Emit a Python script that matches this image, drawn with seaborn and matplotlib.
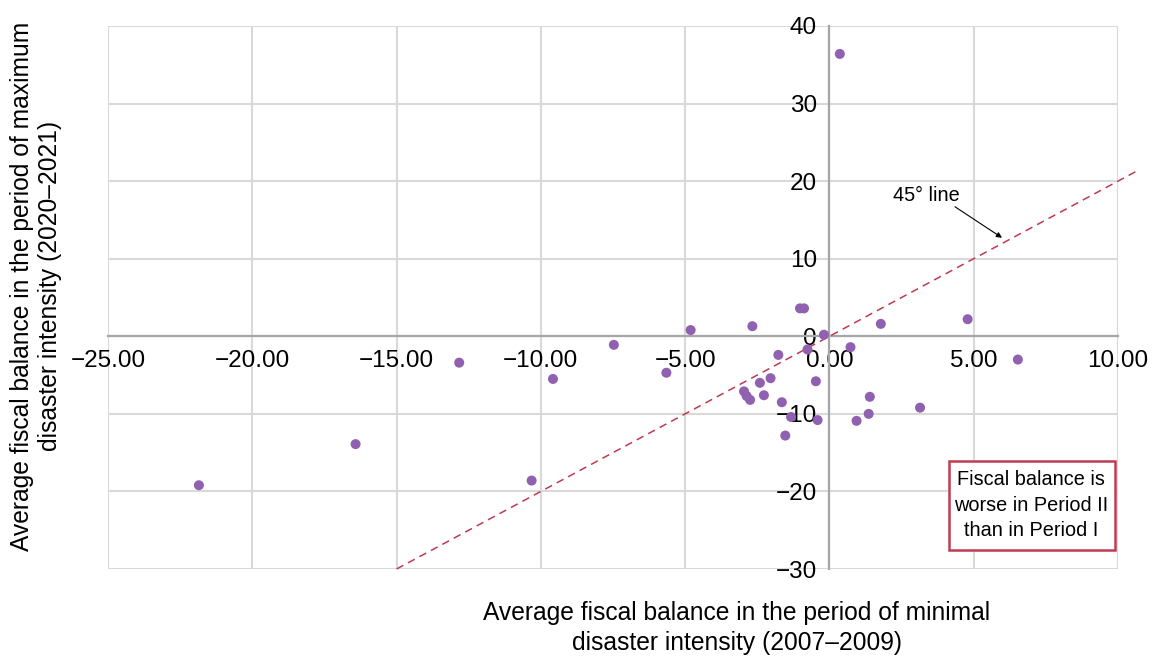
import matplotlib
matplotlib.use("Agg")
import matplotlib.pyplot as plt
from matplotlib.patches import Rectangle
from matplotlib.ticker import FuncFormatter
import seaborn as sns
import pandas as pd

# Average fiscal balance, % of GDP
period1 = [0.36, -21.85, -16.42, -12.83, -10.32, -9.58, -7.47, -5.65, -4.81, -2.67,
           -2.96, -2.87, -2.75, -2.41, -2.27, -2.04, -1.77, -1.65, -1.53, -1.33,
           -1.02, -0.88, -0.76, -0.47, -0.41, -0.19, 0.73, 0.94, 1.36, 1.40,
           1.78, 3.14, 4.79, 6.53]
period2 = [36.4, -19.2, -13.9, -3.4, -18.6, -5.5, -1.1, -4.7, 0.8, 1.3,
           -7.1, -7.7, -8.2, -6.0, -7.6, -5.4, -2.4, -8.5, -12.8, -10.4,
           3.6, 3.6, -1.7, -5.8, -10.8, 0.2, -1.4, -10.9, -10.0, -7.8,
           1.6, -9.2, 2.2, -3.0]

# reference line
ref_x = [-15.0, 10.7]
ref_y = [-30.0, 21.4]

x_ticks = [-25, -20, -15, -10, -5, 0, 5, 10]
y_ticks = [-30, -20, -10, 0, 10, 20, 30, 40]

df = pd.DataFrame({"p1": period1, "p2": period2})

sns.set_theme(style="white")
plt.rcParams["font.family"] = ["Liberation Sans", "DejaVu Sans"]
plt.rcParams["text.color"] = "black"

W, H = 1157, 657
fig = plt.figure(figsize=(W / 100, H / 100), dpi=100)
ax = fig.add_axes([108 / W, 1 - 569 / H, (1118 - 108) / W, (569 - 26) / H])

grid_c = "#d9d9d9"
axis_c = "#a6a6a6"
dot_c = "#9161b1"
red_c = "#c0394f"

ax.set_xlim(-25, 10)
ax.set_ylim(-30, 40)
ax.set_xticks(x_ticks)
ax.set_yticks(y_ticks)
ax.grid(True, color=grid_c, linewidth=1.5, zorder=0)
ax.set_axisbelow(True)

for s in ["top", "right"]:
    ax.spines[s].set_visible(False)
ax.spines["left"].set_position(("data", 0))
ax.spines["bottom"].set_position(("data", 0))
for s in ["left", "bottom"]:
    ax.spines[s].set_color(axis_c)
    ax.spines[s].set_linewidth(1.6)
    ax.spines[s].set_zorder(1)

ax.xaxis.set_major_formatter(FuncFormatter(lambda v, p: f"{v:.2f}".replace("-", "\u2212")))
ax.yaxis.set_major_formatter(FuncFormatter(lambda v, p: f"{v:.0f}".replace("-", "\u2212")))
ax.tick_params(axis="x", length=0, pad=10, labelsize=17.5, labelcolor="black")
ax.tick_params(axis="y", length=0, pad=9, labelsize=17.5, labelcolor="black")

ax.plot(ref_x, ref_y, color=red_c, linewidth=1.1, linestyle=(0, (5, 3.5)),
        clip_on=False, zorder=2)

sns.scatterplot(data=df, x="p1", y="p2", color=dot_c, s=52, edgecolor="none",
                ax=ax, zorder=3, legend=False)
ax.set_xlabel("")
ax.set_ylabel("")

ax.text(3.37, 18.2, "45° line", ha="center", va="center", fontsize=14.3, color="black")
ax.annotate("", xy=(5.98, 12.7), xytext=(4.35, 16.7),
            arrowprops=dict(arrowstyle="-|>", color="black", lw=0.8,
                            mutation_scale=8, shrinkA=0, shrinkB=0))

ax.add_patch(Rectangle((4.15, -27.54), 9.89 - 4.15, -16.02 + 27.54,
                       facecolor="white", edgecolor="#bd3c52", linewidth=1.8,
                       zorder=4))
ax.text(7.0, -21.75, "Fiscal balance is\nworse in Period II\nthan in Period I",
        ha="center", va="center", fontsize=14.3, linespacing=1.42, zorder=5,
        color="black")

fig.text(737 / W, 1 - 628 / H,
         "Average fiscal balance in the period of minimal\ndisaster intensity (2007\u20132009)",
         ha="center", va="center", fontsize=17.7, linespacing=1.3,
         multialignment="center", color="black")
fig.text(36 / W, 1 - 286 / H,
         "Average fiscal balance in the period of maximum\ndisaster intensity (2020\u20132021)",
         ha="center", va="center", fontsize=17.7, linespacing=1.22, rotation=90,
         multialignment="center", color="black")

fig.savefig("out.png", dpi=100)
